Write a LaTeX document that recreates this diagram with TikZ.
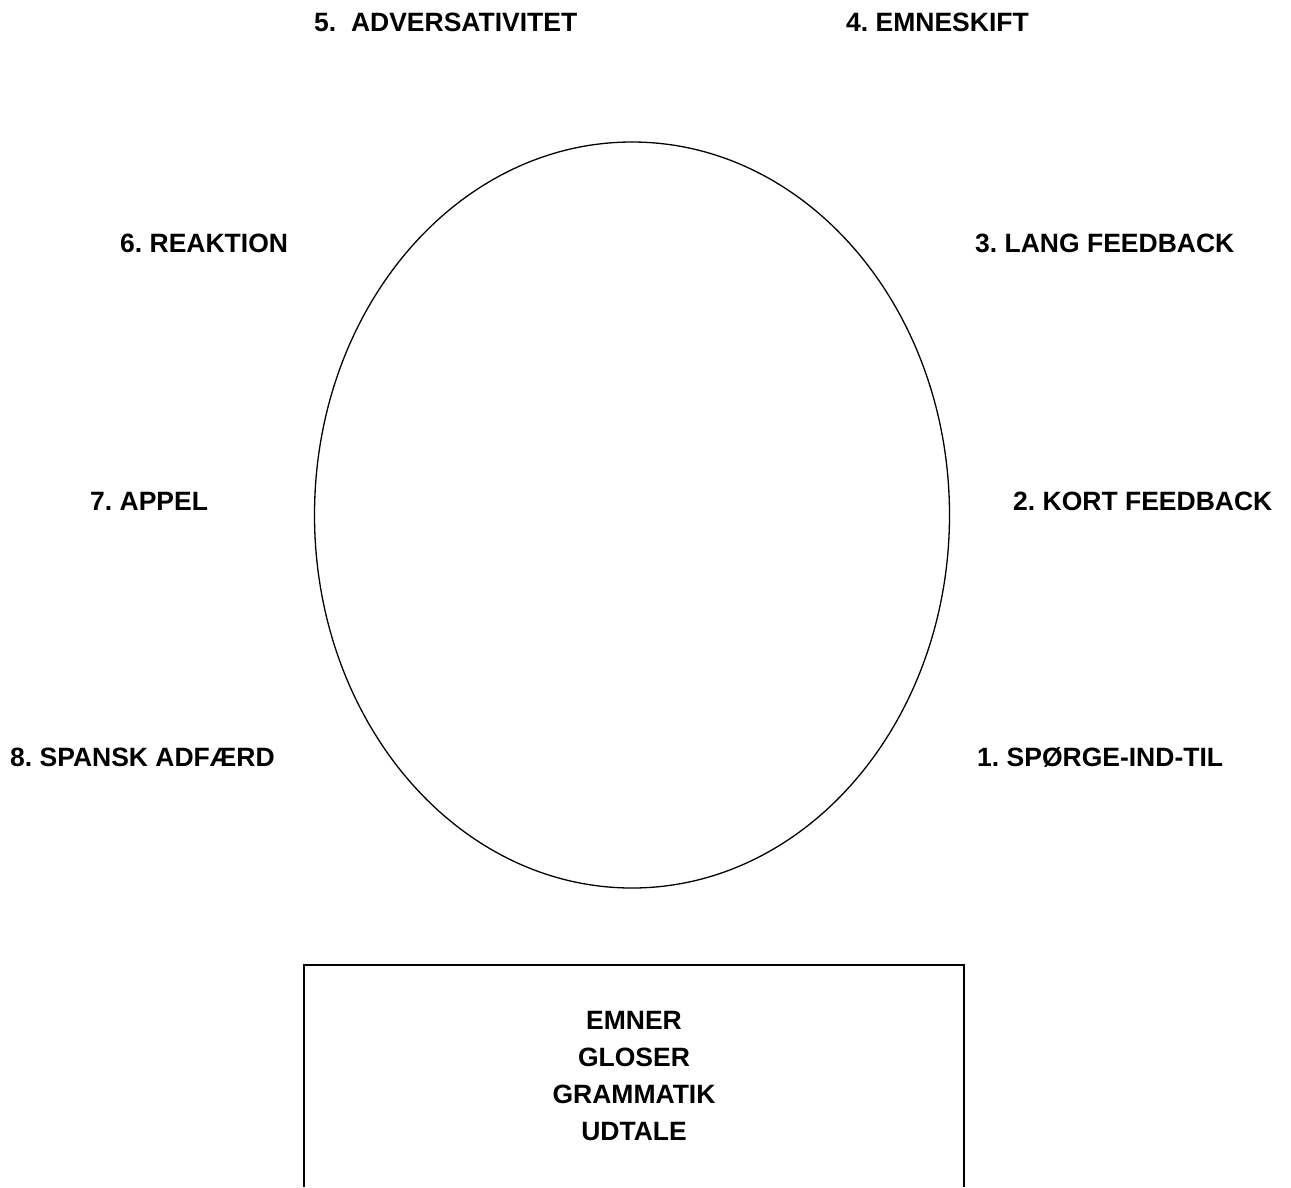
\documentclass[tikz,border=0pt]{standalone}
\usepackage{fontspec}
\setmainfont{Liberation Sans}
\frenchspacing
\begin{document}
\begin{tikzpicture}[x=1pt,y=-1pt,
  lab/.style={anchor=base west,inner sep=0pt,font=\fontsize{26.5}{31}\selectfont\bfseries},
  boxtext/.style={anchor=north,inner sep=0pt,align=center,font=\fontsize{26.5}{37}\selectfont\bfseries}]
\useasboundingbox[fill=white] (0,0) rectangle (1291,1187);
\draw[line width=1.3pt] (632,515) ellipse [x radius=317.5, y radius=373];
\draw[line width=1.6pt] (304,1187) -- (304,965) -- (964,965) -- (964,1187);
\node[lab] (l5) at (314,31) {5.\ \ ADVERSATIVITET};
\node[lab] (l4) at (846,31) {4. EMNESKIFT};
\node[lab] (l6) at (120,252) {6. REAKTION};
\node[lab] (l3) at (975,252) {3. LANG FEEDBACK};
\node[lab] (l7) at (90,510) {7. APPEL};
\node[lab] (l2) at (1013,510) {2. KORT FEEDBACK};
\node[lab] (l8) at (10,766) {8. SPANSK ADFÆRD};
\node[lab] (l1) at (977,766) {1. SPØRGE-IND-TIL};
\node[boxtext] (bx) at (634,1011) {EMNER\\GLOSER\\GRAMMATIK\\UDTALE};
\end{tikzpicture}
\end{document}
